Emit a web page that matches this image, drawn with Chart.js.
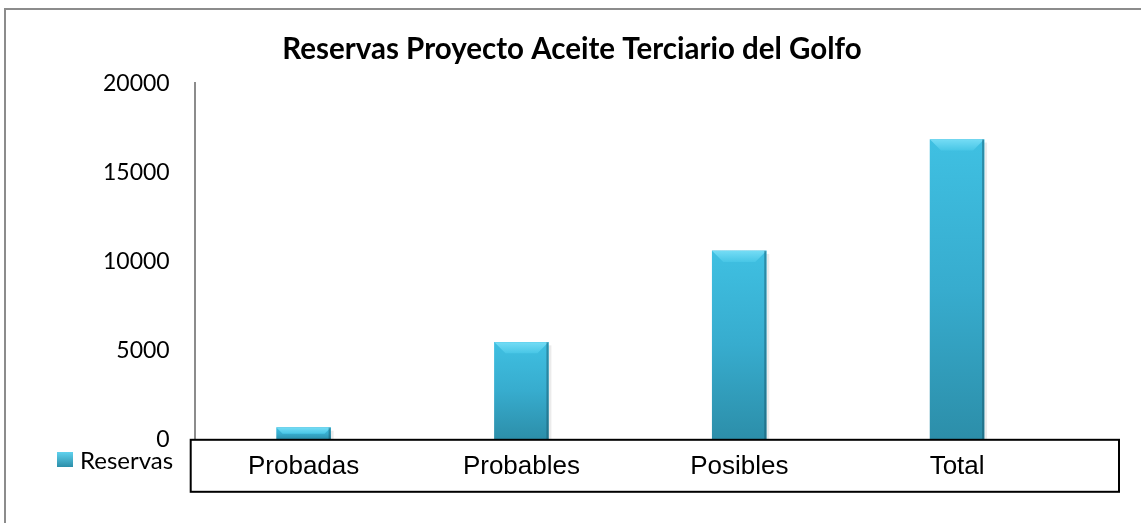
<!DOCTYPE html>
<html><head><meta charset="utf-8">
<script src="https://cdn.jsdelivr.net/npm/chart.js@4.4.0/dist/chart.umd.min.js"></script>
<style>html,body{margin:0;padding:0;background:#fff;}#wrap{position:relative;width:1141px;height:523px;}</style>
</head><body><div id="wrap"><canvas id="c" width="1141" height="523"></canvas></div>
<script>
const chartTitle = 'Reservas Proyecto Aceite Terciario del Golfo';
const categories = ['Probadas', 'Probables', 'Posibles', 'Total'];
const seriesName = 'Reservas';
const reservas = [680, 5470, 10600, 16850];
const yTicks = [0, 5000, 10000, 15000, 20000];

function barGradient(c, top, bottom) {
  const g = c.createLinearGradient(0, top, 0, bottom);
  g.addColorStop(0, '#3fc0e2');
  g.addColorStop(0.5, '#37acce');
  g.addColorStop(1, '#2c8ea9');
  return g;
}

const decor = {
  id: 'decor',
  beforeDraw(chart) {
    const c = chart.ctx;
    c.save();
    c.fillStyle = '#ffffff';
    c.fillRect(0, 0, chart.width, chart.height);
    c.strokeStyle = '#8c8c8c';
    c.lineWidth = 2;
    c.beginPath();
    c.moveTo(5, chart.height);
    c.lineTo(5, 9);
    c.lineTo(chart.width, 9);
    c.stroke();
    c.restore();
  },
  afterDatasetsDraw(chart) {
    const c = chart.ctx;
    const meta = chart.getDatasetMeta(0);
    c.save();
    meta.data.forEach(el => {
      const w = el.width, l = el.x - w / 2, r = el.x + w / 2;
      const h = el.base - el.y;
      const b = Math.min(11, h / 2);
      const g = c.createLinearGradient(0, el.y, 0, el.y + b);
      g.addColorStop(0, '#74dcf5');
      g.addColorStop(1, '#48c6e6');
      c.fillStyle = g;
      c.beginPath();
      c.moveTo(l, el.y); c.lineTo(r, el.y); c.lineTo(r - b, el.y + b); c.lineTo(l + b, el.y + b); c.closePath();
      c.fill();
      c.fillStyle = 'rgba(20,80,100,0.45)';
      c.fillRect(r - 2, el.y, 2, h);
      c.fillStyle = 'rgba(0,0,0,0.08)';
      c.fillRect(r, el.y + 3, 3, h - 3);
    });
    c.restore();
  },
  afterDraw(chart) {
    const c = chart.ctx;
    const a = chart.chartArea;
    c.save();
    c.strokeStyle = '#000000';
    c.lineWidth = 2;
    c.strokeRect(a.left - 4, a.bottom, 1119 - (a.left - 4), 52);
    const lx = 57, ly = 452;
    const g = c.createLinearGradient(0, ly, 0, ly + 15);
    g.addColorStop(0, '#5fd2ee'); g.addColorStop(1, '#2c8ea9');
    c.fillStyle = g;
    c.fillRect(lx, ly, 16, 15);
    c.fillStyle = '#000';
    c.font = '24px Lato';
    c.textBaseline = 'middle';
    c.textAlign = 'left';
    c.fillText(chart.data.datasets[0].label, 80, 461);
    c.restore();
  }
};

new Chart(document.getElementById('c'), {
  type: 'bar',
  data: {
    labels: categories,
    datasets: [{
      label: seriesName,
      data: reservas,
      barThickness: 54,
      borderWidth: 0,
      backgroundColor: (ctx) => {
        const chart = ctx.chart;
        if (!chart.chartArea || ctx.parsed === undefined) return '#38b2d4';
        const ys = chart.scales.y;
        return barGradient(chart.ctx, ys.getPixelForValue(ctx.parsed.y), ys.getPixelForValue(0));
      }
    }]
  },
  options: {
    responsive: false,
    animation: false,
    devicePixelRatio: 1,
    layout: { padding: { left: 78, right: 75, top: 0, bottom: 30 } },
    plugins: {
      legend: { display: false },
      tooltip: { enabled: false },
      title: {
        display: true,
        text: chartTitle,
        color: '#000',
        font: { family: 'Lato', size: 29.5, weight: 'bold' },
        padding: { top: 32, bottom: 16 }
      }
    },
    scales: {
      x: {
        grid: { display: false, drawTicks: false },
        border: { display: false },
        ticks: { color: '#000', font: { family: 'Liberation Sans', size: 26 }, padding: 11, maxRotation: 0 }
      },
      y: {
        min: yTicks[0],
        max: yTicks[yTicks.length - 1],
        grid: { display: false, drawTicks: false },
        border: { display: true, color: '#8c8c8c', width: 2 },
        ticks: {
          stepSize: yTicks[1] - yTicks[0], color: '#000', font: { family: 'Lato', size: 23 }, padding: 25,
          callback: (v) => String(v)
        }
      }
    }
  },
  plugins: [decor]
});
</script></body></html>
